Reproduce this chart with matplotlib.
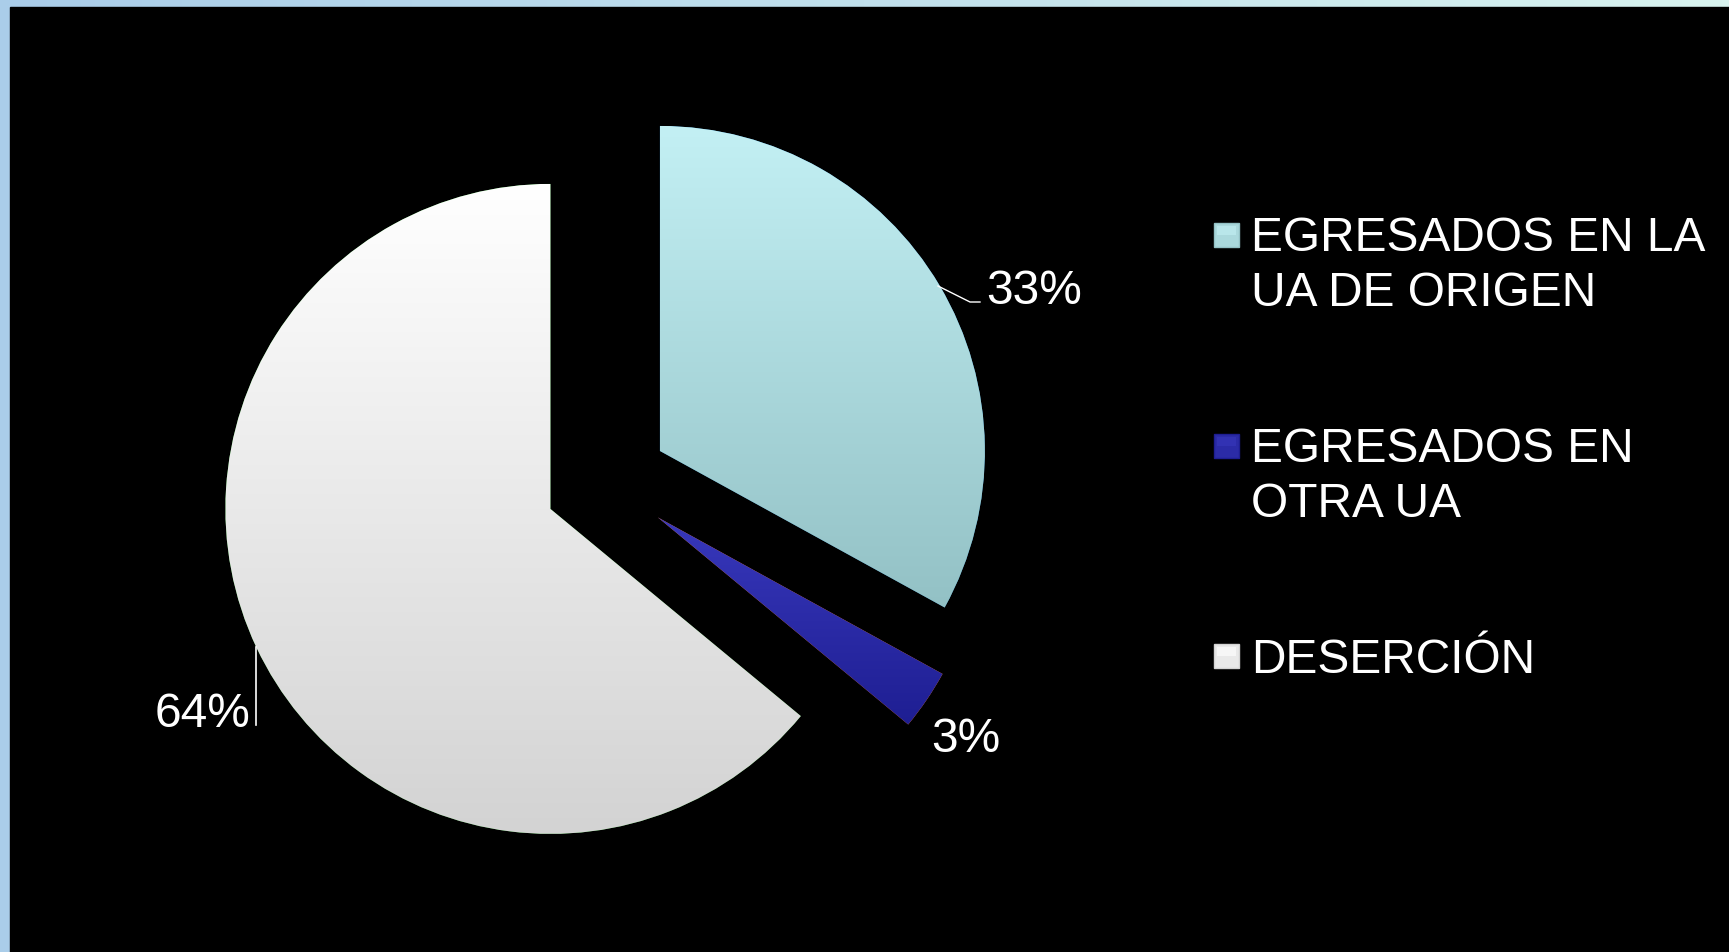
import numpy as np
import matplotlib.pyplot as plt
from matplotlib.colors import LinearSegmentedColormap, to_rgb
from matplotlib.patches import Rectangle

plt.rcParams['font.family'] = ['Liberation Sans', 'DejaVu Sans']

# data
categorias = ["EGRESADOS EN LA\nUA DE ORIGEN", "EGRESADOS EN\nOTRA UA", "DESERCIÓN"]
porcentajes = [33, 3, 64]
color_arriba = ["#c3f0f4", "#3838bc", "#ffffff"]
color_abajo = ["#93c1c5", "#1e1e92", "#d3d3d3"]

W, H = 1729, 953
fig = plt.figure(figsize=(W / 100, H / 100), dpi=100)
ax = fig.add_axes([0, 0, 1, 1])

# slide background strip + black chart area
fondo = np.linspace(0, 1, 256).reshape(1, -1)
cmap_fondo = LinearSegmentedColormap.from_list("fondo", ["#aacde9", "#d8f3ef"])
ax.imshow(fondo, cmap=cmap_fondo, extent=[0, W, 0, H], aspect='auto', zorder=0)
ax.add_patch(Rectangle((10, 0), W - 10, H - 8, color='black', zorder=1))

wedges, _ = ax.pie(porcentajes, startangle=90, counterclock=False,
                   center=(606.5, H - 483.5), radius=325, explode=[62] * 3,
                   wedgeprops=dict(linewidth=0, zorder=2))

def relleno(patch, c_top, c_bot, ext):
    cm = LinearSegmentedColormap.from_list("g", [c_bot, c_top])
    grad = np.linspace(0, 1, 256).reshape(-1, 1)
    im = ax.imshow(grad, cmap=cm, origin='lower', aspect='auto',
                   extent=[ext[0], ext[1], ext[2], ext[3]], zorder=3)
    im.set_clip_path(patch)

# vertical gradient inside each slice
for w, c1, c2 in zip(wedges, color_arriba, color_abajo):
    e = w.get_path().get_extents()
    relleno(w, c1, c2, (e.x0, e.x1, e.y0, e.y1))

fs = 34.5

# percentage labels
pos_labels = [(986, 304), (931, 752), (155, 727)]
for v, (x, y) in zip(porcentajes, pos_labels):
    ax.text(x, H - y, f"{v}%", color='white', fontsize=fs,
            ha='left', va='baseline', zorder=5)
ax.plot([938, 970, 980], [H - 287, H - 303, H - 303], color='white', lw=1, zorder=5)
ax.plot([256, 256], [H - 648, H - 726], color='white', lw=1.2, zorder=5)

# legend
for i, (lab, c1, c2) in enumerate(zip(categorias, color_arriba, color_abajo)):
    top = 224 + i * 210.5
    mid = tuple(0.5 * (a + b) for a, b in zip(to_rgb(c1), to_rgb(c2)))
    ax.add_patch(Rectangle((1214, H - top - 24), 25, 24, facecolor=mid,
                           edgecolor=c2, lw=1, zorder=4))
    ax.add_patch(Rectangle((1217, H - top - 12), 19, 9, facecolor=c1,
                           edgecolor='none', alpha=0.6, zorder=4))
    base = 251 + i * 211
    for j, linea in enumerate(lab.split("\n")):
        ax.text(1251, H - (base + j * 55), linea, color='white', fontsize=fs,
                ha='left', va='baseline', zorder=5)

ax.set_xlim(0, W)
ax.set_ylim(0, H)
ax.axis('off')

fig.savefig("out.png", dpi=100, facecolor='black')
